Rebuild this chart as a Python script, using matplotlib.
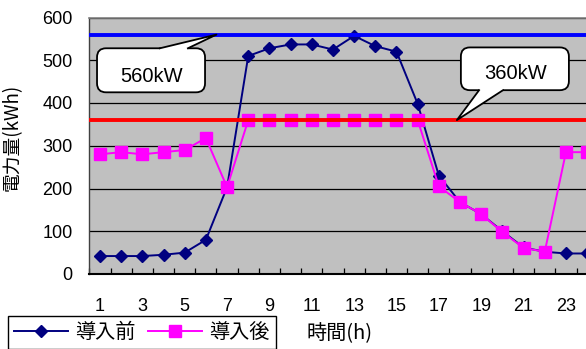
import matplotlib
matplotlib.use("Agg")
import matplotlib.pyplot as plt
from matplotlib.patches import FancyBboxPatch, Polygon
from matplotlib.lines import Line2D
from matplotlib.transforms import IdentityTransform
from matplotlib.ticker import MultipleLocator, FixedLocator

# Hourly electricity use (kWh)
hours = list(range(1, 25))
before = [42, 42, 42, 45, 50, 80, 203, 510, 528, 537, 537, 525, 557, 533,
          520, 398, 230, 168, 140, 100, 62, 52, 48, 48]
after = [280, 285, 280, 285, 290, 318, 203, 360, 360, 360, 360, 360, 360, 360,
         360, 360, 205, 168, 140, 98, 61, 52, 285, 285]
peak_before = 560
peak_after = 360
xtick_labels = [str(h) for h in range(1, 24, 2)]

JP = ["Noto Sans CJK JP", "DejaVu Sans"]
NUM = ["Liberation Sans", "DejaVu Sans"]

W, H, DPI = 586, 349, 100
fig = plt.figure(figsize=(W / DPI, H / DPI), dpi=DPI)
fig.patch.set_facecolor("white")

# axes extends slightly past the right edge of the canvas
ax_left, ax_right = 89.4, 597.7
ax_top, ax_bottom = 17.5, 274.0
ax = fig.add_axes([ax_left / W, 1 - ax_bottom / H,
                   (ax_right - ax_left) / W, (ax_bottom - ax_top) / H])
ax.set_facecolor("#C0C0C0")
ax.set_xlim(0.5, 24.5)
ax.set_ylim(0, 600)

# gridlines
ax.yaxis.set_major_locator(MultipleLocator(100))
ax.grid(axis="y", color="black", linewidth=0.9, zorder=1)
ax.set_axisbelow(True)

# series
ax.plot(hours, before, color="#000080", marker="D", markersize=6.2,
        linewidth=1.4, zorder=3, label="導入前")
ax.plot(hours, after, color="#FF00FF", marker="s", markersize=9.3,
        linewidth=1.4, zorder=4, label="導入後")

# reference levels
ax.axhline(peak_before, color="#0000FF", linewidth=2.8, zorder=5)
ax.axhline(peak_after, color="#FF0000", linewidth=2.8, zorder=5)

# ticks
ax.xaxis.set_major_locator(FixedLocator(list(range(1, 24, 2))))
ax.set_xticklabels(xtick_labels)
ax.xaxis.set_minor_locator(FixedLocator([h + 0.5 for h in range(0, 25)]))
ax.tick_params(axis="x", which="major", length=0, pad=17)
ax.tick_params(axis="x", which="minor", direction="in", length=4,
               width=0.9, color="black")
ax.tick_params(axis="y", length=0, pad=12)
for lab in ax.get_xticklabels() + ax.get_yticklabels():
    lab.set_fontfamily(NUM)
    lab.set_fontsize(13)

# spines
ax.spines["top"].set_color("#808080")
ax.spines["top"].set_linewidth(1.2)
ax.spines["left"].set_color("#404040")
ax.spines["left"].set_linewidth(1.0)
ax.spines["bottom"].set_color("black")
ax.spines["bottom"].set_linewidth(1.5)
ax.spines["right"].set_visible(False)

# axis titles
ax.set_ylabel("電力量(kWh)", fontfamily=JP, fontsize=13.5)
ax.yaxis.set_label_coords(23 / W, 1 - 137 / H, transform=fig.transFigure)
ax.set_xlabel("時間(h)", fontfamily=JP, fontsize=14.5, ha="left", va="center")
ax.xaxis.set_label_coords(307 / W, 1 - 334 / H, transform=fig.transFigure)

# legend
fig.legend(loc="upper left", bbox_to_anchor=(8 / W, 1 - 316 / H), ncol=2,
           frameon=True, fancybox=False, edgecolor="black", framealpha=1,
           borderaxespad=0, prop={"family": JP, "size": 14.5},
           handlelength=2.7, handletextpad=0.35, columnspacing=0.6,
           borderpad=0.3)


def bubble(box, base, tip, text, text_pos):
    """Speech-bubble callout: box and pointer given in data coordinates."""
    T = ax.transData
    x0, y0 = T.transform((box[0], box[1]))
    x1, y1 = T.transform((box[2], box[3]))
    left, right = min(x0, x1), max(x0, x1)
    bottom, top = min(y0, y1), max(y0, y1)
    tx, ty = T.transform(tip)
    if ty > top:
        ye, inner = top, top - 3
    else:
        ye, inner = bottom, bottom + 3
    xa = T.transform((base[0], 0))[0]
    xb = T.transform((base[1], 0))[0]
    fig.add_artist(FancyBboxPatch(
        (left, bottom), right - left, top - bottom,
        boxstyle="round,pad=0,rounding_size=9", transform=IdentityTransform(),
        facecolor="white", edgecolor="black", linewidth=1.3, zorder=6))
    fig.add_artist(Polygon(
        [(xa, inner), (xa, ye), (tx, ty), (xb, ye), (xb, inner)],
        closed=True, transform=IdentityTransform(), facecolor="white",
        edgecolor="none", zorder=7))
    fig.add_artist(Line2D([xa, tx, xb], [ye, ty, ye],
                          transform=IdentityTransform(), color="black",
                          linewidth=1.3, zorder=8))
    fig.text(*fig.transFigure.inverted().transform(T.transform(text_pos)),
             text, ha="center", va="center", fontsize=14.5,
             family=NUM, zorder=9)


bubble((0.86, 425, 5.96, 528), (3.83, 5.15), (6.5, peak_before),
       f"{peak_before}kW", (3.45, 462))
bubble((18.04, 430, 23.14, 530), (18.9, 20.03), (17.85, peak_after),
       f"{peak_after}kW", (20.64, 468))

fig.savefig("out.png", dpi=DPI, facecolor="white")
